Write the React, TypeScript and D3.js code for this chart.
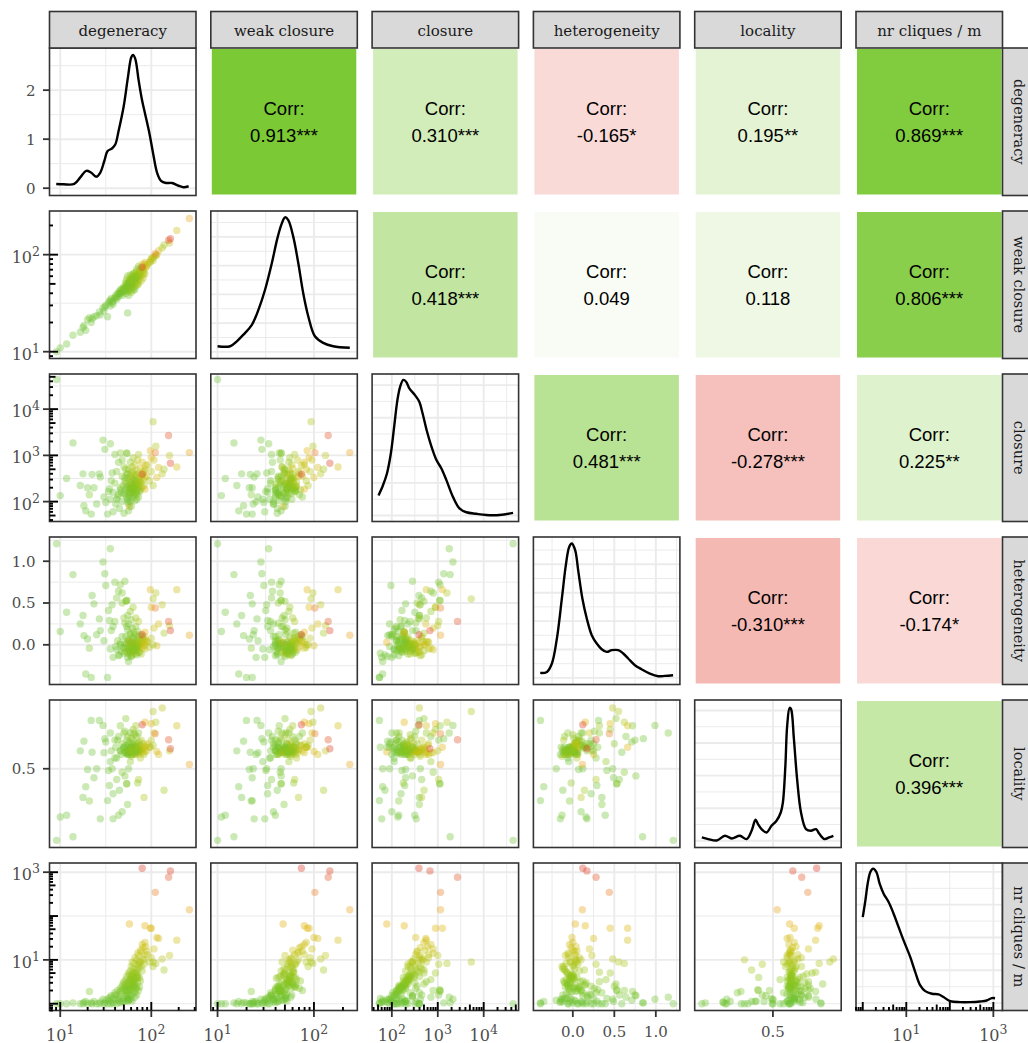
import React from "react";
import * as d3 from "d3";

// ---------- variables shown in the pairs matrix ----------
const variableNames = ["degeneracy", "weak closure", "closure", "heterogeneity", "locality", "nr cliques / m"];
const isLog10 = [true, true, true, false, false, true];
// axis domains (log10 units for log-scaled variables), expanded like ggplot
const axisDomains: [number, number][] = [
  [0.882, 2.491],
  [0.93, 2.45],
  [1.57, 4.76],
  [-0.475, 1.29],
  [0.28, 0.692],
  [-0.155, 3.21],
];
const majorBreaks: number[][] = [[1, 2], [1, 2], [2, 3, 4], [0, 0.5, 1], [0.5], [1, 3]];
const minorBreaks: number[][] = [[1.5], [1.5], [2.5, 3.5, 4.5], [-0.25, 0.25, 0.75, 1.25], [], [0, 2]];

// ---------- per-graph measurements (log10 for log-scaled variables) ----------
const degeneracyLog = [
  0.96, 1.0, 1.07, 1.14, 1.25, 1.26, 1.28, 1.3, 1.32, 1.34,
  1.35, 1.37, 1.43, 1.44, 1.47, 1.49, 1.5, 1.52, 1.53, 1.54,
  1.55, 1.55, 1.56, 1.58, 1.6, 1.61, 1.62, 1.63, 1.64, 1.65,
  1.66, 1.66, 1.67, 1.68, 1.68, 1.69, 1.7, 1.7, 1.71, 1.71,
  1.72, 1.72, 1.73, 1.73, 1.74, 1.74, 1.74, 1.75, 1.75, 1.75,
  1.76, 1.76, 1.76, 1.77, 1.77, 1.77, 1.78, 1.78, 1.78, 1.78,
  1.79, 1.79, 1.79, 1.8, 1.8, 1.8, 1.8, 1.81, 1.81, 1.81,
  1.82, 1.82, 1.82, 1.83, 1.83, 1.83, 1.84, 1.84, 1.84, 1.85,
  1.85, 1.85, 1.86, 1.86, 1.86, 1.87, 1.87, 1.88, 1.88, 1.89,
  1.89, 1.9, 1.9, 1.91, 1.91, 1.92, 1.93, 1.93, 1.94, 1.76,
  1.93, 2.0, 2.06, 2.08, 2.28, 1.99, 2.12, 1.95, 1.96, 1.98,
  2.0, 2.02, 2.03, 2.05, 2.02, 2.14, 2.2, 1.62, 1.66, 1.7,
  1.73, 1.76, 1.79, 1.82, 1.58, 1.48, 1.4, 1.22, 1.84, 1.87,
  1.78, 1.74, 1.68, 1.8, 1.72, 1.64, 1.86, 1.77, 1.83, 1.6,
  1.75, 1.71, 1.85, 1.92, 1.57, 1.81, 1.88, 1.79, 1.83, 1.76,
  1.74, 1.9, 2.21, 2.19, 2.044, 2.418, 1.81, 1.79, 1.84, 1.77,
  1.86, 1.8, 1.83, 1.78, 1.73, 1.73,
];
const weakClosureLog = [
  1.0, 1.04, 1.08, 1.17, 1.25, 1.27, 1.22, 1.33, 1.35, 1.3,
  1.34, 1.36, 1.41, 1.38, 1.45, 1.46, 1.48, 1.36, 1.5, 1.52,
  1.53, 1.47, 1.55, 1.49, 1.55, 1.58, 1.56, 1.6, 1.57, 1.62,
  1.6, 1.64, 1.61, 1.63, 1.58, 1.65, 1.62, 1.67, 1.64, 1.66,
  1.6, 1.72, 1.66, 1.75, 1.62, 1.7, 1.78, 1.64, 1.69, 1.58,
  1.74, 1.63, 1.68, 1.79, 1.66, 1.71, 1.61, 1.76, 1.7, 1.65,
  1.78, 1.67, 1.72, 1.63, 1.8, 1.69, 1.75, 1.66, 1.73, 1.81,
  1.7, 1.77, 1.64, 1.82, 1.71, 1.68, 1.79, 1.74, 1.85, 1.69,
  1.83, 1.72, 1.77, 1.88, 1.7, 1.81, 1.75, 1.86, 1.78, 1.73,
  1.84, 1.79, 1.9, 1.76, 1.85, 1.81, 1.92, 1.8, 1.87, 1.68,
  1.9, 1.95, 2.0, 2.04, 2.25, 1.93, 2.07, 1.88, 1.9, 1.92,
  1.96, 1.94, 1.98, 1.99, 1.97, 2.1, 2.12, 1.54, 1.6, 1.63,
  1.68, 1.71, 1.72, 1.76, 1.52, 1.42, 1.37, 1.2, 1.77, 1.81,
  1.7, 1.69, 1.65, 1.75, 1.7, 1.6, 1.8, 1.74, 1.78, 1.56,
  1.66, 1.63, 1.79, 1.84, 1.51, 1.74, 1.82, 1.76, 1.75, 1.72,
  1.4, 1.87, 2.165, 2.148, 2.01, 2.372, 1.75, 1.73, 1.76, 1.71,
  1.78, 1.73, 1.77, 1.72, 1.66, 1.66,
];
const closureLog = [
  4.64, 2.13, 2.5, 3.27, 2.6, 1.91, 1.8, 2.3, 2.15, 1.73,
  2.59, 2.3, 2.6, 2.53, 3.33, 3.13, 1.98, 1.73, 2.22, 2.28,
  3.25, 2.05, 2.45, 1.78, 2.4, 1.95, 2.65, 2.1, 2.85, 1.85,
  2.3, 3.05, 2.2, 2.55, 2.0, 2.35, 1.75, 2.75, 2.15, 2.45,
  2.25, 2.4, 2.1, 2.6, 2.3, 2.05, 2.5, 2.2, 2.7, 1.95,
  2.35, 2.15, 2.45, 2.28, 2.55, 2.0, 2.38, 2.62, 2.18, 2.42,
  2.3, 2.75, 2.08, 2.48, 2.22, 2.65, 2.35, 2.12, 2.58, 2.26,
  2.4, 2.8, 2.02, 2.33, 2.52, 2.2, 2.44, 2.68, 2.15, 2.37,
  2.9, 2.27, 2.5, 2.1, 2.6, 2.32, 2.45, 2.25, 2.72, 2.4,
  2.55, 2.3, 2.85, 2.48, 2.62, 2.35, 2.7, 2.52, 2.78, 1.89,
  2.27, 2.95, 2.52, 2.74, 2.75, 3.1, 2.6, 2.55, 2.8, 2.45,
  2.65, 2.35, 2.9, 3.2, 3.73, 2.7, 3.0, 2.05, 2.25, 2.18,
  2.32, 2.1, 2.28, 2.45, 2.2, 2.1, 1.95, 2.35, 2.05, 2.22,
  1.9, 2.6, 2.9, 2.95, 2.7, 2.15, 3.02, 2.85, 2.58, 3.02,
  1.8, 2.52, 2.25, 2.65, 2.62, 2.16, 2.42, 2.5, 2.38, 2.27,
  2.0, 2.59, 2.83, 3.43, 3.06, 3.06, 2.31, 2.2, 2.36, 2.24,
  2.42, 2.29, 2.18, 2.34, 3.04, 3.05,
];
const heterogeneity = [
  1.21, 0.16, 0.39, 0.84, 0.35, 0.11, -0.35, 0.07, -0.04, -0.39,
  0.59, 0.49, 0.31, 0.17, 0.99, 0.85, 0.71, -0.39, 0.41, 0.29,
  1.15, -0.05, 0.17, -0.15, 0.28, -0.02, 0.56, 0.05, 0.64, -0.12,
  0.02, 0.72, -0.08, 0.5, 0.1, -0.03, -0.1, 0.32, 0.01, 0.76,
  0.1, -0.08, 0.22, -0.03, 0.05, 0.18, -0.1, 0.06, -0.07, 0.25,
  -0.11, 0.04, -0.05, 0.14, -0.09, 0.12, -0.02, -0.13, 0.3, 0.01,
  -0.06, 0.03, 0.2, -0.04, 0.08, -0.12, 0.09, -0.01, -0.08, 0.15,
  0.0, -0.05, 0.12, 0.02, -0.1, 0.22, -0.07, 0.04, 0.07, -0.02,
  -0.06, 0.16, 0.01, 0.1, -0.09, 0.05, -0.03, 0.12, 0.0, -0.11,
  0.02, 0.08, -0.04, 0.03, -0.02, 0.06, 0.0, -0.05, 0.04, 0.03,
  0.15, 0.45, -0.01, 0.25, 0.66, 0.66, 0.48, 0.05, 0.03, -0.03,
  0.08, 0.0, 0.2, 0.62, 0.55, 0.14, 0.23, -0.06, 0.0, -0.04,
  0.02, -0.07, 0.03, -0.05, 0.22, 0.05, 0.12, 0.25, -0.12, -0.09,
  -0.14, 0.35, 0.62, 0.45, 0.52, -0.13, 0.28, 0.4, 0.32, 0.75,
  -0.2, 0.26, -0.02, 0.1, 0.48, -0.06, 0.05, 0.0, 0.01, -0.03,
  -0.15, 0.12, 0.17, 0.28, 0.44, 0.115, -0.04, -0.06, -0.02, -0.05,
  0.02, -0.08, -0.03, 0.0, 0.53, 0.53,
];
const locality = [
  0.3, 0.365, 0.37, 0.31, 0.42, 0.577, 0.45, 0.498, 0.41, 0.635,
  0.546, 0.475, 0.635, 0.36, 0.621, 0.584, 0.575, 0.411, 0.495, 0.453,
  0.6, 0.52, 0.55, 0.36, 0.53, 0.56, 0.47, 0.58, 0.59, 0.44,
  0.55, 0.62, 0.54, 0.57, 0.38, 0.555, 0.56, 0.6, 0.545, 0.48,
  0.565, 0.545, 0.58, 0.55, 0.54, 0.56, 0.59, 0.545, 0.553, 0.57,
  0.54, 0.575, 0.55, 0.56, 0.548, 0.6, 0.552, 0.535, 0.56, 0.585,
  0.55, 0.545, 0.57, 0.54, 0.58, 0.555, 0.565, 0.55, 0.547, 0.56,
  0.595, 0.54, 0.558, 0.57, 0.55, 0.563, 0.545, 0.56, 0.59, 0.552,
  0.545, 0.57, 0.555, 0.6, 0.54, 0.575, 0.55, 0.565, 0.548, 0.58,
  0.552, 0.56, 0.545, 0.57, 0.555, 0.54, 0.56, 0.548, 0.565, 0.547,
  0.63, 0.626, 0.548, 0.54, 0.62, 0.56, 0.67, 0.55, 0.57, 0.56,
  0.58, 0.565, 0.6, 0.63, 0.66, 0.44, 0.55, 0.53, 0.55, 0.56,
  0.545, 0.553, 0.54, 0.56, 0.43, 0.545, 0.5, 0.55, 0.548, 0.552,
  0.56, 0.4, 0.49, 0.61, 0.64, 0.37, 0.47, 0.52, 0.62, 0.58,
  0.5, 0.605, 0.46, 0.42, 0.5, 0.6, 0.53, 0.555, 0.551, 0.549,
  0.54, 0.623, 0.556, 0.581, 0.598, 0.512, 0.552, 0.546, 0.556, 0.55,
  0.562, 0.549, 0.544, 0.551, 0.458, 0.458,
];
const cliquesLog = [
  0.0, 0.0, 0.0, 0.02, 0.0, 0.03, 0.05, 0.0, 0.28, 0.02,
  0.0, 0.05, 0.0, 0.04, 0.1, 0.02, 0.08, 0.0, 0.12, 0.06,
  0.15, 0.0, 0.18, 0.03, 0.25, 0.1, 0.2, 0.3, 0.15, 0.05,
  0.35, 0.28, 0.22, 0.4, 0.05, 0.45, 0.12, 0.5, 0.38, 0.18,
  0.3, 0.55, 0.2, 0.62, 0.4, 0.15, 0.48, 0.35, 0.7, 0.1,
  0.52, 0.28, 0.66, 0.42, 0.75, 0.18, 0.58, 0.85, 0.32, 0.63,
  0.45, 0.95, 0.22, 0.6, 0.38, 0.8, 0.5, 0.28, 0.92, 0.44,
  0.68, 1.05, 0.25, 0.55, 0.78, 0.4, 0.72, 1.0, 0.35, 0.64,
  1.15, 0.48, 0.88, 0.3, 1.1, 0.6, 0.95, 0.52, 1.22, 0.85,
  1.18, 0.75, 1.35, 1.02, 1.28, 0.9, 1.4, 1.12, 1.3, 1.82,
  1.78, 1.72, 1.51, 1.49, 1.45, 1.72, 1.02, 1.2, 1.12, 0.95,
  1.05, 0.85, 1.25, 0.92, 0.95, 0.77, 1.1, 0.0, 0.02, 0.05,
  0.08, 0.12, 0.06, 0.15, 0.0, 0.0, 0.0, 0.0, 0.2, 0.38,
  0.1, 0.25, 0.3, 0.7, 0.45, 0.1, 0.9, 0.55, 0.72, 0.2,
  0.08, 0.35, 0.6, 1.0, 0.1, 0.42, 0.95, 0.65, 0.58, 0.46,
  0.05, 3.09, 3.03, 2.885, 2.54, 2.145, 0.52, 0.4, 0.62, 0.33,
  0.8, 0.47, 0.36, 0.55, 0.32, 0.3,
];

// point colour follows nr cliques / m (log10)
const pointColorStops = [0, 0.6, 1.2, 1.8, 2.3, 3.1];
const pointColors = ["#6cc234", "#8fc61c", "#c4c210", "#e2ae00", "#ee9a22", "#db3322"];

// ---------- correlations in the upper triangle ----------
const corrRow = [0, 0, 0, 0, 0, 1, 1, 1, 1, 2, 2, 2, 3, 3, 4];
const corrCol = [1, 2, 3, 4, 5, 2, 3, 4, 5, 3, 4, 5, 4, 5, 5];
const corrValue = [0.913, 0.31, -0.165, 0.195, 0.869, 0.418, 0.049, 0.118, 0.806, 0.481, -0.278, 0.225, -0.31, -0.174, 0.396];
const corrStars = ["***", "***", "*", "**", "***", "***", "", "", "***", "***", "***", "**", "***", "*", "***"];

// ---------- marginal densities on the diagonal ----------
const densityX: number[][] = [
  [0.956, 1.036, 1.154, 1.22, 1.286, 1.337, 1.396, 1.44, 1.484, 1.52, 1.568, 1.604, 1.64, 1.696, 1.744, 1.78, 1.799, 1.824, 1.861, 1.898, 1.934, 1.978, 2.019, 2.063, 2.107, 2.162, 2.227, 2.3, 2.355, 2.41],
  [1.0, 1.131, 1.2, 1.269, 1.356, 1.424, 1.493, 1.563, 1.62, 1.666, 1.7, 1.734, 1.786, 1.838, 1.889, 1.941, 2.01, 2.096, 2.2, 2.372],
  [1.71, 1.805, 1.892, 1.978, 2.05, 2.121, 2.18, 2.25, 2.31, 2.381, 2.504, 2.598, 2.67, 2.758, 2.866, 2.974, 3.082, 3.19, 3.333, 3.478, 3.623, 3.84, 4.056, 4.344, 4.64],
  [-0.393, -0.312, -0.252, -0.192, -0.132, -0.084, -0.044, -0.012, 0.028, 0.067, 0.115, 0.168, 0.228, 0.288, 0.348, 0.408, 0.468, 0.547, 0.607, 0.667, 0.748, 0.828, 0.928, 1.028, 1.108, 1.208],
  [0.3, 0.318, 0.342, 0.365, 0.384, 0.407, 0.426, 0.44, 0.451, 0.458, 0.468, 0.482, 0.496, 0.51, 0.522, 0.528, 0.535, 0.54, 0.547, 0.551, 0.559, 0.568, 0.579, 0.593, 0.607, 0.621, 0.631, 0.645, 0.658, 0.67],
  [0.0, 0.061, 0.113, 0.175, 0.237, 0.313, 0.388, 0.48, 0.594, 0.709, 0.824, 0.938, 1.092, 1.206, 1.321, 1.435, 1.589, 1.74, 1.855, 2.008, 2.237, 2.466, 2.695, 2.848, 2.963, 3.039],
];
const densityY: number[][] = [
  [0.087, 0.08, 0.087, 0.22, 0.355, 0.32, 0.235, 0.32, 0.555, 0.757, 0.81, 0.89, 1.16, 1.66, 2.27, 2.67, 2.72, 2.64, 2.2, 1.8, 1.5, 1.13, 0.72, 0.32, 0.15, 0.107, 0.107, 0.05, 0.02, 0.04],
  [0.097, 0.097, 0.183, 0.3, 0.47, 0.73, 1.08, 1.54, 1.97, 2.23, 2.34, 2.29, 2.0, 1.54, 1.02, 0.62, 0.27, 0.156, 0.097, 0.07],
  [0.154, 0.23, 0.32, 0.475, 0.68, 0.885, 0.987, 1.04, 1.026, 0.975, 0.923, 0.872, 0.782, 0.654, 0.525, 0.423, 0.359, 0.269, 0.141, 0.052, 0.025, 0.013, 0.004, 0.004, 0.02],
  [0.088, 0.106, 0.254, 0.694, 1.398, 1.984, 2.306, 2.366, 2.248, 1.866, 1.398, 1.046, 0.752, 0.605, 0.505, 0.458, 0.488, 0.488, 0.43, 0.342, 0.224, 0.153, 0.077, 0.03, 0.035, 0.048],
  [0.51, 0.26, 0.05, 0.77, 0.36, 0.77, 0.26, 1.53, 3.22, 2.56, 1.79, 1.28, 2.3, 3.07, 4.34, 5.87, 11.5, 17.6, 20.4, 20.2, 15.6, 9.46, 4.34, 1.79, 1.53, 1.79, 1.03, 0.26, 0.51, 0.77],
  [0.524, 0.626, 0.728, 0.799, 0.82, 0.799, 0.728, 0.667, 0.616, 0.545, 0.463, 0.382, 0.28, 0.189, 0.108, 0.073, 0.057, 0.053, 0.037, 0.012, 0.006, 0.006, 0.01, 0.016, 0.03, 0.03],
];
const densityDomains: [number, number][] = [
  [-0.149, 2.86],
  [-0.116, 2.45],
  [-0.046, 1.085],
  [-0.116, 2.48],
  [-1.03, 21.6],
  [-0.045, 0.854],
];
const densityMajor: number[][] = [
  [0, 1, 2],
  [0, 0.5, 1, 1.5, 2],
  [0, 0.25, 0.5, 0.75, 1],
  [0, 0.5, 1, 1.5, 2],
  [0, 5, 10, 15, 20],
  [0, 0.2, 0.4, 0.6, 0.8],
];
const densityMinor: number[][] = [
  [0.5, 1.5, 2.5],
  [0.25, 0.75, 1.25, 1.75, 2.25],
  [0.125, 0.375, 0.625, 0.875],
  [0.25, 0.75, 1.25, 1.75, 2.25],
  [2.5, 7.5, 12.5, 17.5],
  [0.1, 0.3, 0.5, 0.7],
];
const densityAxisTicks = [0, 1, 2];

// ---------- layout ----------
const W = 1028;
const H = 1043;
const PANEL_LEFT = 49.5;
const STEP_X = 161.3;
const PANEL_W = 146.5;
const PANEL_TOP = 48;
const STEP_Y = 163;
const PANEL_H = 147.5;
const STRIP_SIZE = 36.5;

const SERIF = "'DejaVu Serif', serif";
const SANS = "'Liberation Sans', Arial, sans-serif";
const GRID = "#ebebeb";
const DARK = "#333333";

const logTickLen = [3.5, 6, 8.5];

function logTicks(domain: [number, number]) {
  const out: { v: number; kind: number }[] = [];
  for (let k = Math.floor(domain[0]); k <= Math.ceil(domain[1]); k++) {
    for (let m = 1; m <= 9; m++) {
      const v = k + Math.log10(m);
      if (v >= domain[0] && v <= domain[1]) out.push({ v, kind: m === 1 ? 2 : m === 5 ? 1 : 0 });
    }
  }
  return out;
}

const fmtLinear = d3.format(".1f");

function TickLabel(props: {
  x: number;
  y: number;
  value: number;
  log: boolean;
  anchor: "end" | "middle";
  plain?: boolean;
}) {
  const { x, y, value, log, anchor, plain } = props;
  if (log) {
    return (
      <text x={x} y={y} textAnchor={anchor} fontFamily={SERIF} fontSize={16} fill="#4d4d4d">
        <tspan>10</tspan>
        <tspan dy={-7} fontSize={12.5}>
          {String(value)}
        </tspan>
      </text>
    );
  }
  return (
    <text x={x} y={y} textAnchor={anchor} fontFamily={SERIF} fontSize={15} fill="#4d4d4d">
      {plain ? String(value) : fmtLinear(value)}
    </text>
  );
}

export default function App() {
  const columns = [degeneracyLog, weakClosureLog, closureLog, heterogeneity, locality, cliquesLog];
  const n = degeneracyLog.length;
  const colorScale = d3
    .scaleLinear<string>()
    .domain(pointColorStops)
    .range(pointColors)
    .interpolate(d3.interpolateRgb)
    .clamp(true);
  const tileGreen = d3.interpolateRgb("#ffffff", "#6ec421");
  const tileRed = d3.interpolateRgb("#ffffff", "#df1d0d");

  const colLeft = (c: number) => PANEL_LEFT + c * STEP_X;
  const rowTop = (r: number) => PANEL_TOP + r * STEP_Y;
  const xScaleFor = (c: number) =>
    d3.scaleLinear().domain(axisDomains[c]).range([colLeft(c), colLeft(c) + PANEL_W]);
  const yScaleFor = (r: number) =>
    d3.scaleLinear().domain(axisDomains[r]).range([rowTop(r) + PANEL_H, rowTop(r)]);

  const order = d3.range(n);
  const nodes: React.ReactNode[] = [];
  const defs: React.ReactNode[] = [];

  for (let r = 0; r < 6; r++) {
    for (let c = 0; c < 6; c++) {
      const x0 = colLeft(c);
      const y0 = rowTop(r);
      const key = `${r}-${c}`;
      if (r < c) {
        // correlation tile
        const idx = corrRow.findIndex((rr, i) => rr === r && corrCol[i] === c);
        const v = corrValue[idx];
        const fill = v >= 0 ? tileGreen(v) : tileRed(-v);
        const cx = x0 + PANEL_W / 2;
        nodes.push(
          <g key={key}>
            <rect x={x0 + 1} y={y0 + 1} width={PANEL_W - 2} height={PANEL_H - 2} fill={fill} />
            <text x={cx} y={y0 + 67.3} textAnchor="middle" fontFamily={SANS} fontSize={18.5} fill="#000">
              Corr:
            </text>
            <text x={cx} y={y0 + 93.8} textAnchor="middle" fontFamily={SANS} fontSize={18.5} fill="#000">
              {v.toFixed(3) + corrStars[idx]}
            </text>
          </g>
        );
        continue;
      }

      const xs = xScaleFor(c);
      const clipId = `clip-${key}`;
      defs.push(
        <clipPath id={clipId} key={clipId}>
          <rect x={x0} y={y0} width={PANEL_W} height={PANEL_H} />
        </clipPath>
      );

      const vGrid = (
        <g>
          {minorBreaks[c].map((b) => (
            <line key={"vm" + b} x1={xs(b)} x2={xs(b)} y1={y0} y2={y0 + PANEL_H} stroke={GRID} strokeWidth={1} />
          ))}
          {majorBreaks[c].map((b) => (
            <line key={"vM" + b} x1={xs(b)} x2={xs(b)} y1={y0} y2={y0 + PANEL_H} stroke={GRID} strokeWidth={1.9} />
          ))}
        </g>
      );

      if (r === c) {
        // diagonal: marginal density
        const ys = d3.scaleLinear().domain(densityDomains[r]).range([y0 + PANEL_H, y0]);
        const line = d3
          .line<number>()
          .x((_, i) => xs(densityX[r][i]))
          .y((d) => ys(d))
          .curve(d3.curveCatmullRom.alpha(0.5));
        nodes.push(
          <g key={key}>
            <g clipPath={`url(#${clipId})`}>
              {densityMinor[r].map((b) => (
                <line key={"hm" + b} x1={x0} x2={x0 + PANEL_W} y1={ys(b)} y2={ys(b)} stroke={GRID} strokeWidth={1} />
              ))}
              {densityMajor[r].map((b) => (
                <line key={"hM" + b} x1={x0} x2={x0 + PANEL_W} y1={ys(b)} y2={ys(b)} stroke={GRID} strokeWidth={1.9} />
              ))}
              {vGrid}
              <path d={line(densityY[r]) || ""} fill="none" stroke="#000" strokeWidth={2.4} strokeLinejoin="round" />
            </g>
            <rect x={x0} y={y0} width={PANEL_W} height={PANEL_H} fill="none" stroke={DARK} strokeWidth={1.6} />
          </g>
        );
        continue;
      }

      // lower triangle: scatter
      const ys = yScaleFor(r);
      const xData = columns[c];
      const yData = columns[r];
      nodes.push(
        <g key={key}>
          <g clipPath={`url(#${clipId})`}>
            {minorBreaks[r].map((b) => (
              <line key={"hm" + b} x1={x0} x2={x0 + PANEL_W} y1={ys(b)} y2={ys(b)} stroke={GRID} strokeWidth={1} />
            ))}
            {majorBreaks[r].map((b) => (
              <line key={"hM" + b} x1={x0} x2={x0 + PANEL_W} y1={ys(b)} y2={ys(b)} stroke={GRID} strokeWidth={1.9} />
            ))}
            {vGrid}
            {order.map((i) => (
              <circle
                key={i}
                cx={xs(xData[i])}
                cy={ys(yData[i])}
                r={3.7}
                fill={colorScale(cliquesLog[i])}
                fillOpacity={0.36}
              />
            ))}
          </g>
          <rect x={x0} y={y0} width={PANEL_W} height={PANEL_H} fill="none" stroke={DARK} strokeWidth={1.6} />
        </g>
      );
    }
  }

  // log ticks along the outer axes
  const logTickMarks: React.ReactNode[] = [];
  for (let r = 1; r < 6; r++) {
    if (!isLog10[r]) continue;
    const ys = yScaleFor(r);
    logTicks(axisDomains[r]).forEach((t, i) => {
      logTickMarks.push(
        <line
          key={`ltl-${r}-${i}`}
          x1={PANEL_LEFT}
          x2={PANEL_LEFT + logTickLen[t.kind]}
          y1={ys(t.v)}
          y2={ys(t.v)}
          stroke="#000"
          strokeWidth={1.9}
        />
      );
    });
  }
  for (let c = 0; c < 6; c++) {
    if (!isLog10[c]) continue;
    const xs = xScaleFor(c);
    const yb = rowTop(5) + PANEL_H;
    logTicks(axisDomains[c]).forEach((t, i) => {
      logTickMarks.push(
        <line
          key={`ltb-${c}-${i}`}
          x1={xs(t.v)}
          x2={xs(t.v)}
          y1={yb}
          y2={yb - logTickLen[t.kind]}
          stroke="#000"
          strokeWidth={1.9}
        />
      );
    });
  }

  // left axis
  const leftAxis: React.ReactNode[] = [];
  for (let r = 0; r < 6; r++) {
    const y0 = rowTop(r);
    if (r === 0) {
      const ys = d3.scaleLinear().domain(densityDomains[0]).range([y0 + PANEL_H, y0]);
      densityAxisTicks.forEach((t) => {
        leftAxis.push(
          <g key={`la-${r}-${t}`}>
            <line x1={PANEL_LEFT - 6.5} x2={PANEL_LEFT} y1={ys(t)} y2={ys(t)} stroke={DARK} strokeWidth={1.8} />
            <TickLabel x={35.5} y={ys(t) + 5.4} value={t} log={false} anchor="end" plain />
          </g>
        );
      });
      continue;
    }
    const ys = yScaleFor(r);
    majorBreaks[r].forEach((t) => {
      leftAxis.push(
        <g key={`la-${r}-${t}`}>
          <line x1={PANEL_LEFT - 6.5} x2={PANEL_LEFT} y1={ys(t)} y2={ys(t)} stroke={DARK} strokeWidth={1.8} />
          <TickLabel
            x={isLog10[r] ? 40 : 35.5}
            y={ys(t) + (isLog10[r] ? 8 : 5.4)}
            value={t}
            log={isLog10[r]}
            anchor="end"
          />
        </g>
      );
    });
  }

  // bottom axis
  const bottomAxis: React.ReactNode[] = [];
  const yb = rowTop(5) + PANEL_H;
  for (let c = 0; c < 6; c++) {
    const xs = xScaleFor(c);
    majorBreaks[c].forEach((t) => {
      bottomAxis.push(
        <g key={`ba-${c}-${t}`}>
          <line x1={xs(t)} x2={xs(t)} y1={yb} y2={yb + 6.5} stroke={DARK} strokeWidth={1.8} />
          <TickLabel x={xs(t)} y={isLog10[c] ? 1040.5 : 1037.3} value={t} log={isLog10[c]} anchor="middle" />
        </g>
      );
    });
  }

  // facet strips
  const strips: React.ReactNode[] = [];
  variableNames.forEach((name, i) => {
    const x0 = colLeft(i);
    strips.push(
      <g key={`st-${i}`}>
        <rect x={x0} y={PANEL_TOP - STRIP_SIZE} width={PANEL_W} height={STRIP_SIZE} fill="#d9d9d9" stroke={DARK} strokeWidth={1.6} />
        <text x={x0 + PANEL_W / 2} y={PANEL_TOP - 12.5} textAnchor="middle" fontFamily={SERIF} fontSize={15} fill="#1a1a1a">
          {name}
        </text>
      </g>
    );
    const y0 = rowTop(i);
    const sx = colLeft(5) + PANEL_W;
    strips.push(
      <g key={`sr-${i}`}>
        <rect x={sx} y={y0} width={STRIP_SIZE} height={PANEL_H} fill="#d9d9d9" stroke={DARK} strokeWidth={1.6} />
        <text
          transform={`translate(${sx + 11},${y0 + PANEL_H / 2}) rotate(90)`}
          textAnchor="middle"
          fontFamily={SERIF}
          fontSize={14.5}
          fill="#1a1a1a"
        >
          {name}
        </text>
      </g>
    );
  });

  return (
    <svg
      width={W}
      height={H}
      viewBox={`0 0 ${W} ${H}`}
      style={{ position: "absolute", left: 0, top: 0, background: "#fff" }}
    >
      <defs>{defs}</defs>
      <rect x={0} y={0} width={W} height={H} fill="#fff" />
      {nodes}
      {logTickMarks}
      {leftAxis}
      {bottomAxis}
      {strips}
    </svg>
  );
}
